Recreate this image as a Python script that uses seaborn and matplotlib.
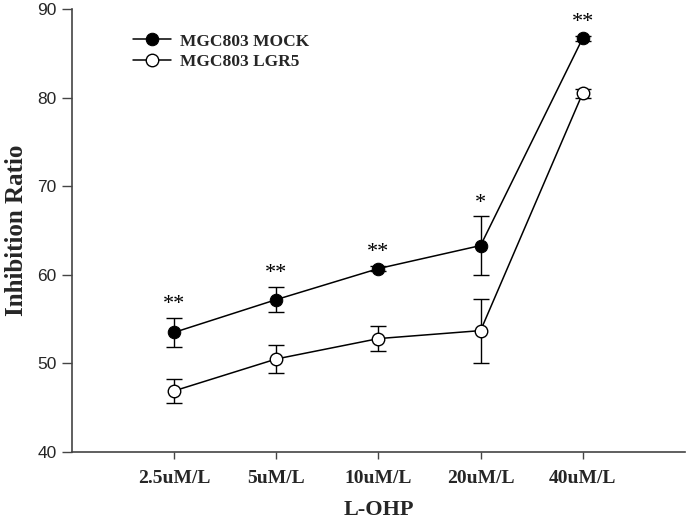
import numpy as np
import pandas as pd
import matplotlib
matplotlib.use("Agg")
import matplotlib.pyplot as plt
import seaborn as sns

# Data
doses = ["2.5uM/L", "5uM/L", "10uM/L", "20uM/L", "40uM/L"]
mock_mean = [53.5, 57.2, 60.7, 63.3, 86.7]
mock_err = [1.65, 1.45, 0.3, 3.3, 0.3]
lgr5_mean = [46.9, 50.5, 52.8, 53.7, 80.5]
lgr5_err = [1.35, 1.6, 1.4, 3.6, 0.5]
stars = ["**", "**", "**", "*", "**"]

sns.set_style("ticks")
serif = ["Liberation Serif", "DejaVu Serif"]
sans = ["Liberation Sans", "DejaVu Sans"]

fig = plt.figure(figsize=(6.89, 5.25), dpi=100)
ax = fig.add_axes([0.1045, 0.139, 0.8895, 0.844])

x = np.arange(len(doses))
df_mock = pd.DataFrame({"x": x, "y": mock_mean})
df_lgr5 = pd.DataFrame({"x": x, "y": lgr5_mean})

# error bars first so markers sit on top
ax.errorbar(x, mock_mean, yerr=mock_err, fmt="none", ecolor="black",
            elinewidth=1.0, capsize=6, capthick=1.0, zorder=2)
ax.errorbar(x, lgr5_mean, yerr=lgr5_err, fmt="none", ecolor="black",
            elinewidth=1.0, capsize=6, capthick=1.0, zorder=2)

sns.lineplot(data=df_mock, x="x", y="y", ax=ax, color="black", lw=1.1,
             marker="o", markersize=9, mfc="black", mec="black",
             label="MGC803 MOCK", zorder=3)
sns.lineplot(data=df_lgr5, x="x", y="y", ax=ax, color="black", lw=1.1,
             marker="o", markersize=9, mfc="white", mec="black", mew=1.0,
             label="MGC803 LGR5", zorder=3)

# significance marks
for xi, m, e, s in zip(x, mock_mean, mock_err, stars):
    ax.text(xi, m + e + 0.4, s, ha="center", va="bottom",
            fontsize=16, family=serif, color="black")

ax.set_xlim(-1, 5)
ax.set_ylim(40, 90)
ax.set_yticks([40, 50, 60, 70, 80, 90])
ax.set_xticks(x)
ax.set_xticklabels(doses, family=serif, fontweight="bold", fontsize=14)
for lab in ax.get_yticklabels():
    lab.set_family(sans)
    lab.set_fontsize(12.5)

ax.set_xlabel("L-OHP", family=serif, fontweight="bold", fontsize=16, labelpad=9)
ax.set_ylabel("Inhibition Ratio", family=serif, fontweight="bold", fontsize=18,
              labelpad=7)

sns.despine(ax=ax)
for sp in ["left", "bottom"]:
    ax.spines[sp].set_color("#444444")
    ax.spines[sp].set_linewidth(1.2)
ax.tick_params(axis="both", direction="out", color="#444444", width=1.0)
ax.tick_params(axis="x", length=5, pad=8)
ax.tick_params(axis="y", length=7, pad=4)

leg = ax.legend(loc="upper left", bbox_to_anchor=(0.074, 0.98), frameon=False,
                prop={"family": serif, "weight": "bold", "size": 12.5},
                handlelength=2.2, handletextpad=0.5, labelspacing=0.25)

fig.savefig("out.png", dpi=100)
